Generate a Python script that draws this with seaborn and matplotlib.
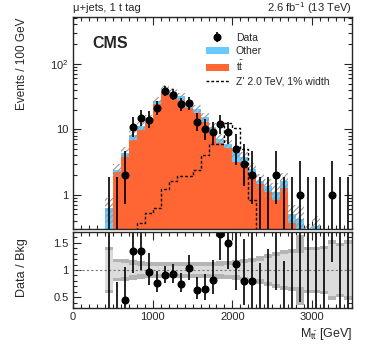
# CMS-style M_tt distribution with data/bkg ratio panel
import numpy as np
import pandas as pd
import matplotlib
matplotlib.use("Agg")
import matplotlib.pyplot as plt
from matplotlib.ticker import MultipleLocator, LogLocator, NullFormatter
from matplotlib.lines import Line2D
from matplotlib.patches import Patch
import seaborn as sns

# 100 GeV bins from 400 to 3500 GeV
edges = list(range(400, 3600, 100))
centers = np.array(edges[:-1]) + 50

ttbar = [0.22, 2.2, 3.75, 6.8, 9.6, 12.5, 24.5, 37, 33, 28.5, 21, 17.8, 13, 9.2, 6.1, 5.2,
         3.2, 3.15, 2.1, 1.44, 1.1, 0.82, 1.25, 0.37, 0.28, 0.2, 0.2, 0.1, 0.1, 0.1, 0.1]
other = [0.40, 0.2, 0.65, 1.4, 1.5, 1.9, 2.8, 5.0, 4.0, 3.5, 3.3, 2.7, 2.5, 1.8, 1.1, 0.8,
         1.3, 0.65, 0.4, 0.21, 0.24, 0.30, 0.35, 0.13, 0.14, 0.05, 0.13, 0.05, 0.05, 0.05, 0.05]
data = [0, 0, 2, 11, 15, 14, 21, 38, 34, 24, 25, 13, 10, 9, 12, 9,
        5, 3, 2, 0, 0, 2, 0, 0, 1, 0, 0, 0, 1, 0, 0]
zprime = [0, 0, 0, 0, 0.37, 0.53, 0.63, 1.24, 1.6, 1.97, 1.97, 2.35, 4.0, 6.0, 6.0, 12.5,
          10.5, 5.0, 0.82, 0, 0, 0, 0, 0, 0, 0, 0, 0, 0, 0, 0]
# relative background uncertainty (total / inner)
unc_out = [0.43, 0.21, 0.20, 0.18, 0.16, 0.15, 0.15, 0.14, 0.14, 0.14, 0.14, 0.14, 0.15, 0.15, 0.16, 0.16,
           0.18, 0.20, 0.22, 0.25, 0.30, 0.33, 0.36, 0.38, 0.65, 0.42, 0.42, 0.45, 0.55, 0.50, 0.55]
unc_in = [0.37, 0.15, 0.13, 0.10, 0.08, 0.07, 0.07, 0.07, 0.07, 0.07, 0.07, 0.07, 0.07, 0.08, 0.08, 0.09,
          0.10, 0.13, 0.15, 0.17, 0.23, 0.26, 0.29, 0.31, 0.31, 0.36, 0.36, 0.38, 0.48, 0.44, 0.48]

c_tt = "#ff6633"
c_other = "#66ccff"

sns.set_style("ticks")
plt.rcParams["font.family"] = ["Liberation Sans", "DejaVu Sans"]
plt.rcParams["mathtext.fontset"] = "custom"
plt.rcParams["mathtext.rm"] = "Liberation Sans"
plt.rcParams["mathtext.it"] = "Liberation Sans:italic"
plt.rcParams["hatch.color"] = "#9a9a9a"
plt.rcParams["hatch.linewidth"] = 0.8

W, H = 374, 351
fig = plt.figure(figsize=(W / 100, H / 100), dpi=100)
ax = fig.add_axes([73 / W, 1 - 229 / H, 279 / W, 212 / H])
rax = fig.add_axes([73 / W, 1 - 308 / H, 279 / W, 76 / H])

ttbar = np.array(ttbar)
other = np.array(other)
data = np.array(data, dtype=float)
total = ttbar + other
unc_out = np.array(unc_out)
unc_in = np.array(unc_in)

# Gehrels approximation of Poisson intervals
err_hi = np.sqrt(data + 0.75) + 1
n1 = np.maximum(data, 1)
lo_lim = np.where(data > 0, data * (1 - 1 / (9 * n1) - 1 / (3 * np.sqrt(n1))) ** 3, 0)
err_lo = data - lo_lim

# stacked backgrounds
bkg = pd.DataFrame({
    "mass": np.concatenate([centers, centers]),
    "events": np.concatenate([other, ttbar]),
    "process": ["Other"] * len(centers) + ["ttbar"] * len(centers),
})
sns.histplot(data=bkg, x="mass", weights="events", hue="process", hue_order=["Other", "ttbar"],
             bins=edges, multiple="stack", element="step", palette={"Other": c_other, "ttbar": c_tt},
             alpha=1, linewidth=0, legend=False, ax=ax)

# hatched uncertainty on total
ax.fill_between(edges, np.append(total * (1 - unc_out), 0), np.append(total * (1 + unc_out), 0),
                step="post", facecolor="none", edgecolor="#9a9a9a", hatch="//////", linewidth=0)

# signal
sig = pd.DataFrame({"mass": centers, "events": zprime})
sns.histplot(data=sig, x="mass", weights="events", bins=edges, element="step", fill=False, color="black",
             linewidth=1.0, linestyle=(0, (2, 1.5)), ax=ax)

# data
nz = data > 0
ax.errorbar(centers[~nz], data[~nz], yerr=[err_lo[~nz], err_hi[~nz]], fmt="none", ecolor="black", elinewidth=1.2)
dat = ax.errorbar(centers[nz], data[nz], yerr=[err_lo[nz], err_hi[nz]], fmt="o", color="black",
                  ms=4.8, elinewidth=1.2, capsize=0)

ax.set_yscale("log")
ax.set_xlim(0, 3500)
ax.set_ylim(0.3, 520)
ax.set_xlabel("")
ax.set_ylabel("")
ax.set_yticks([1, 10, 100], labels=["1", "10", "10$^{2}$"])
ax.yaxis.set_minor_locator(LogLocator(base=10, subs=np.arange(2, 10)))
ax.yaxis.set_minor_formatter(NullFormatter())
ax.xaxis.set_major_locator(MultipleLocator(1000))
ax.xaxis.set_minor_locator(MultipleLocator(100))
ax.tick_params(axis="x", labelbottom=False)

# ratio panel
ratio = data / total
r_lo = err_lo / total
r_hi = err_hi / total
rax.fill_between(edges, np.append(1 - unc_out, 1 - unc_out[-1]), np.append(1 + unc_out, 1 + unc_out[-1]),
                 step="post", color="#b4b4b4", linewidth=0)
rax.fill_between(edges, np.append(1 - unc_in, 1 - unc_in[-1]), np.append(1 + unc_in, 1 + unc_in[-1]),
                 step="post", color="#dcdcdc", linewidth=0)
rax.axhline(1, color="#777777", lw=0.8, ls=(0, (2, 2)))
rax.errorbar(centers[~nz], ratio[~nz], yerr=[r_lo[~nz], r_hi[~nz]], fmt="none", ecolor="black", elinewidth=1.2)
rax.errorbar(centers[nz], ratio[nz], yerr=[r_lo[nz], r_hi[nz]], fmt="o", color="black",
             ms=4.8, elinewidth=1.2, capsize=0)
rax.set_xlim(0, 3500)
rax.set_ylim(0.3, 1.7)
rax.set_yticks([0.5, 1, 1.5], labels=["0.5", "1", "1.5"])
rax.yaxis.set_minor_locator(MultipleLocator(0.1))
rax.xaxis.set_major_locator(MultipleLocator(1000))
rax.xaxis.set_minor_locator(MultipleLocator(100))

for a in (ax, rax):
    a.tick_params(which="both", direction="in", top=True, right=True, labelsize=8, width=0.8, pad=3)
    a.tick_params(which="major", length=6)
    a.tick_params(which="minor", length=3)
    for s in a.spines.values():
        s.set_linewidth(1.0)

# legend
handles = [dat, Patch(facecolor=c_other, edgecolor="none"), Patch(facecolor=c_tt, edgecolor="none"),
           Line2D([], [], color="black", lw=1.0, ls=(0, (2, 1.5)))]
labels = ["Data", "Other", r"$\mathrm{t}\bar{\mathrm{t}}$", "Z' 2.0 TeV, 1% width"]
ax.legend(handles, labels, loc="upper left", bbox_to_anchor=(0.46, 0.945), frameon=False, fontsize=7.5,
          handlelength=2.3, handleheight=0.75, labelspacing=0.3, handletextpad=0.6, borderaxespad=0)

ax.text(0.068, 0.877, "CMS", transform=ax.transAxes, fontsize=11.5, fontweight="bold", va="center")
fig.text(73 / W, 1 - 8 / H, "\u03bc+jets, 1 t tag", fontsize=8, ha="left", va="center")
fig.text(352 / W, 1 - 8 / H, "2.6 fb$^{-1}$ (13 TeV)", fontsize=8, ha="right", va="center")
fig.text(22 / W, 1 - 18 / H, "Events / 100 GeV", fontsize=8.5, rotation=90, ha="center", va="top")
fig.text(22 / W, 1 - 268 / H, "Data / Bkg", fontsize=9, rotation=90, ha="center", va="center")
fig.text(352 / W, 1 - 334 / H, r"M$_{\mathrm{t}\bar{\mathrm{t}}}$ [GeV]", fontsize=9, ha="right", va="center")

fig.savefig("out.png", dpi=100)
